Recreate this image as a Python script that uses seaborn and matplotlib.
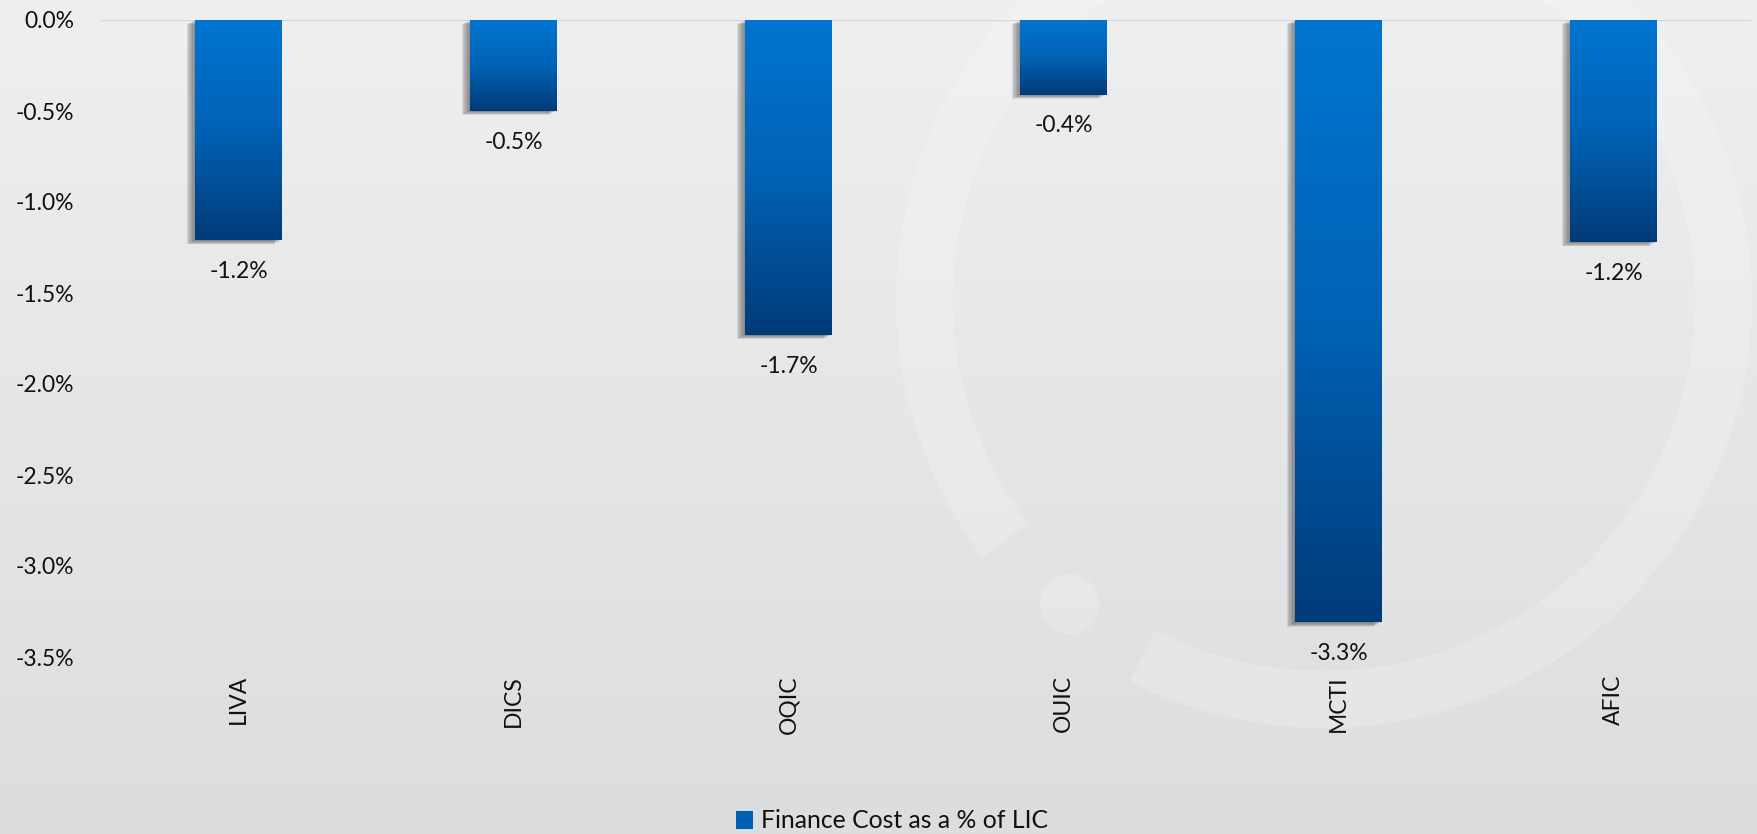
import numpy as np
import pandas as pd
import matplotlib
matplotlib.use("Agg")
import matplotlib.pyplot as plt
import matplotlib.patheffects as pe
from matplotlib.colors import LinearSegmentedColormap
from matplotlib.patches import Wedge, Circle, Patch
import seaborn as sns

# ---- data ----
categories = ["LIVA", "DICS", "OQIC", "OUIC", "MCTI", "AFIC"]
values = [-1.21, -0.50, -1.73, -0.41, -3.31, -1.22]
series_name = "Finance Cost as a % of LIC"
y_ticks = [0.0, -0.5, -1.0, -1.5, -2.0, -2.5, -3.0, -3.5]

sns.set_style("white")
plt.rcParams["font.family"] = ["Lato", "DejaVu Sans"]
TEXT = "#111111"
FS = 16.5

W, H = 1757, 834
fig = plt.figure(figsize=(W / 100, H / 100), dpi=100)

# ---- background gradient + faint watermark ring ----
bg = fig.add_axes([0, 0, 1, 1], zorder=-10)
bg_cmap = LinearSegmentedColormap.from_list("bg", ["#eeeff0", "#dcdddf"])
bg.imshow(np.linspace(0, 1, 256).reshape(-1, 1), extent=[0, W, 0, H],
          aspect="auto", cmap=bg_cmap, origin="upper")
cx, cy = 1324, H - 300
bg.add_patch(Wedge((cx, cy), 428, 243, 577, width=57,
                   facecolor="white", alpha=0.2, edgecolor="none"))
bg.add_patch(Circle((1070, H - 604), 30, facecolor="white", alpha=0.2,
                    edgecolor="none"))
bg.set_xlim(0, W)
bg.set_ylim(0, H)
bg.axis("off")

# ---- main axes ----
ax = fig.add_axes([101 / W, 1 - 657 / H, 1650 / W, 637 / H])
ax.patch.set_alpha(0)

df = pd.DataFrame({"cat": categories, "val": values})
sns.barplot(data=df, x="cat", y="val", ax=ax, width=0.316,
            color="#005aa8", saturation=1, errorbar=None, zorder=3,
            edgecolor="none", linewidth=0)

bar_cmap = LinearSegmentedColormap.from_list("bar", ["#0075d1", "#0062b5", "#003b78"])
grad = np.linspace(0, 1, 256).reshape(-1, 1)
shadow = [pe.SimplePatchShadow(offset=(-k, -0.5 * k), shadow_rgbFace="#444444",
                               alpha=0.13) for k in range(1, 7)] + [pe.Normal()]
for p, v in zip(ax.patches, values):
    p.set_path_effects(shadow)
    x0 = p.get_x()
    w = p.get_width()
    y0 = p.get_y()
    h = p.get_height()
    top, bottom = max(y0, y0 + h), min(y0, y0 + h)
    ax.imshow(grad, extent=[x0, x0 + w, bottom, top], aspect="auto",
              cmap=bar_cmap, origin="upper", zorder=4)
    ax.annotate(f"{v:.1f}%", xy=(x0 + w / 2, bottom), xytext=(0, -15),
                textcoords="offset points", ha="center", va="top",
                fontsize=FS, color=TEXT)

ax.axhline(0, color="#d3d5d8", lw=1.6, zorder=2)
ax.set_xlim(-0.5, len(categories) - 0.5)
ax.set_ylim(-3.5, 0)
ax.set_yticks(y_ticks)
ax.set_yticklabels([f"{abs(t):.1f}%" if t == 0 else f"{t:.1f}%" for t in y_ticks])
ax.tick_params(axis="y", length=0, pad=19, labelsize=FS, labelcolor=TEXT)
ax.tick_params(axis="x", length=0, pad=13, labelsize=FS, labelcolor=TEXT,
               labelrotation=90)
ax.set_xlabel("")
ax.set_ylabel("")
for s in ax.spines.values():
    s.set_visible(False)
ax.grid(False)

handle = Patch(facecolor="#0060b2", edgecolor="none")
fig.legend([handle], [series_name], loc="center",
           bbox_to_anchor=(892 / W, 13 / H), frameon=False, fontsize=17.8,
           handlelength=0.7, handleheight=0.7, handletextpad=0.35,
           labelcolor=TEXT)

fig.savefig("out.png", dpi=100)
